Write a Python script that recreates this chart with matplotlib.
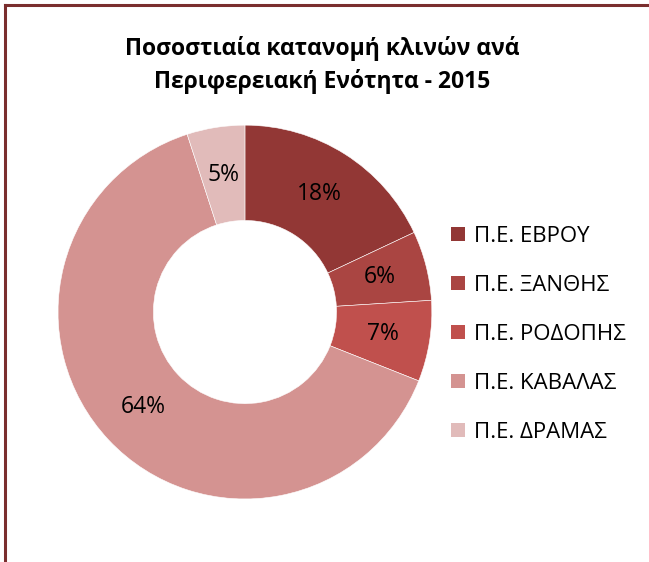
import matplotlib.pyplot as plt
from matplotlib.lines import Line2D
from matplotlib.patches import Patch

plt.rcParams['font.family'] = ['Open Sans', 'DejaVu Sans']

regions = ['Π.Ε. ΕΒΡΟΥ', 'Π.Ε. ΞΑΝΘΗΣ', 'Π.Ε. ΡΟΔΟΠΗΣ', 'Π.Ε. ΚΑΒΑΛΑΣ', 'Π.Ε. ΔΡΑΜΑΣ']
shares = [18, 6, 7, 64, 5]
colors = ['#923735', '#AA4542', '#C0504D', '#D49391', '#E1BBBA']

fig = plt.figure(figsize=(6.49, 5.62), dpi=100)

# donut
ax = fig.add_axes([0.0894, 0.112, 0.576, 0.6655])
wedges, texts, autotexts = ax.pie(shares, colors=colors, startangle=90, counterclock=False,
                                  autopct='%d%%', pctdistance=0.745,
                                  wedgeprops=dict(width=0.51, edgecolor='white', linewidth=0.4),
                                  textprops=dict(fontsize=16.5, color='black'))
ax.set_aspect('equal')
ax.set_xlim(-1, 1)
ax.set_ylim(-1, 1)

fig.text(0.497, 0.884, 'Ποσοστιαία κατανομή κλινών ανά\nΠεριφερειακή Ενότητα - 2015',
         ha='center', va='center', fontsize=16.5, fontweight='bold', linespacing=1.42)

handles = [Patch(facecolor=c, edgecolor='none') for c in colors]
fig.legend(handles, regions, loc='center left', bbox_to_anchor=(0.664, 0.405),
           frameon=False, fontsize=16, handlelength=0.62, handleheight=0.62,
           handletextpad=0.4, labelspacing=1.26)

# frame (top and left edges only visible)
fig.add_artist(Line2D([0.0077, 1.0], [0.9911, 0.9911], color='#7A2E2E', lw=2.2))
fig.add_artist(Line2D([0.0077, 0.0077], [0.0, 0.9911], color='#7A2E2E', lw=2.2))

fig.savefig('out.png', dpi=100)
